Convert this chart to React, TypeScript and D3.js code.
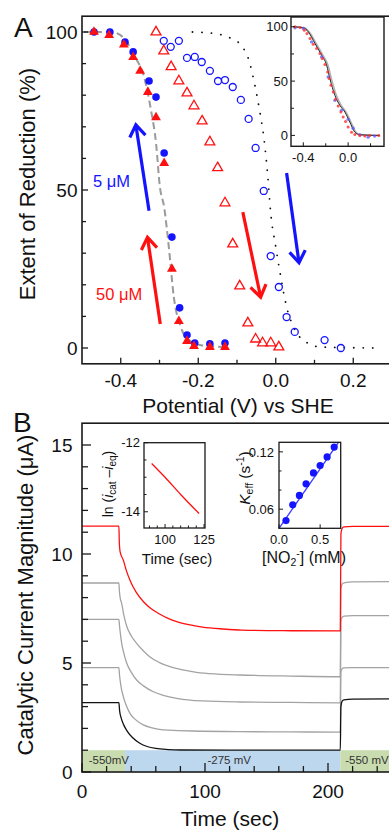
import React from "react";
import * as d3 from "d3";

const W = 389;
const H = 831;
const FONT = "Arial, 'Liberation Sans', Helvetica, sans-serif";

// ---- Panel A: extent of reduction (%) vs potential (V vs SHE) ----
const blueFilled: [number, number][] = [
  [-0.469, 100], [-0.428, 100], [-0.389, 96.8], [-0.368, 93.7], [-0.327, 84.5],
  [-0.309, 79.4], [-0.288, 61.7], [-0.268, 35.1], [-0.248, 12.7], [-0.229, 4.1],
  [-0.209, 1.6], [-0.17, 1.3], [-0.131, 1.6],
];
const redFilled: [number, number][] = [
  [-0.469, 100], [-0.43, 99], [-0.392, 96], [-0.368, 92], [-0.35, 87.7],
  [-0.33, 81], [-0.309, 73], [-0.288, 58.5], [-0.268, 25], [-0.25, 8.5],
  [-0.229, 2.2], [-0.211, 0.6], [-0.17, 0.3], [-0.131, 0.3],
];
const redOpen: [number, number][] = [
  [-0.309, 100], [-0.289, 94], [-0.27, 89], [-0.25, 84.5], [-0.229, 80.7],
  [-0.211, 76.6], [-0.19, 71.8], [-0.17, 65.2], [-0.15, 57], [-0.131, 45.9],
  [-0.111, 32.9], [-0.093, 19.6], [-0.072, 7.9], [-0.052, 2.8], [-0.034, 1.6],
  [-0.013, 1.6], [0.008, 0.3],
];
const blueOpen: [number, number][] = [
  [-0.289, 97.2], [-0.271, 95.3], [-0.25, 97.2], [-0.229, 91.8], [-0.209, 92.1],
  [-0.191, 90.5], [-0.17, 87.7], [-0.149, 84.5], [-0.131, 84.8], [-0.111, 82.6],
  [-0.09, 78.5], [-0.07, 72.5], [-0.052, 63.3], [-0.031, 49.7], [-0.013, 29.1],
  [0.008, 19.3], [0.028, 9.8], [0.049, 5.1], [0.126, 2.5], [0.168, 0],
];
const fitReductive: [number, number][] = [
  [-0.495, 100], [-0.425, 100], [-0.391, 98], [-0.366, 92.7], [-0.34, 85.8],
  [-0.322, 75.3], [-0.309, 64.9], [-0.299, 51], [-0.288, 44.6], [-0.276, 32],
  [-0.263, 16.1], [-0.245, 6.6], [-0.224, 2.5], [-0.193, 0.9], [-0.134, 0.3],
];
const fitOxidative: [number, number][] = [
  [-0.215, 100], [-0.163, 99.6], [-0.116, 98], [-0.09, 95.9], [-0.067, 90.2],
  [-0.054, 83.2], [-0.041, 74.7], [-0.031, 66.8], [-0.021, 55], [-0.013, 42.7],
  [0.0, 32], [0.013, 22.5], [0.028, 13], [0.046, 6.6], [0.082, 1.6],
  [0.116, 0.3], [0.27, 0],
];
// sweep-direction arrows: [tail, tip] in data coordinates
const arrowsBlue: [[number, number], [number, number]][] = [
  [[-0.327, 43.4], [-0.361, 70.6]],
  [[0.028, 55.4], [0.06, 27.0]],
];
const arrowsRed: [[number, number], [number, number]][] = [
  [[-0.298, 7.6], [-0.331, 35.0]],
  [[-0.085, 43.0], [-0.039, 16.1]],
];
const xTicksA = [-0.4, -0.2, 0.0, 0.2];
const xMinorA = [-0.3, -0.1, 0.1];
const yTicksA = [0, 50, 100];
const yMinorA = [10, 20, 30, 40, 60, 70, 80, 90];

// inset of panel A
const insetBlack: [number, number][] = [
  [-0.489, 100], [-0.4, 99.1], [-0.356, 95.4], [-0.296, 84.6], [-0.237, 73.9],
  [-0.192, 64.6], [-0.163, 52.3], [-0.118, 36.9], [-0.074, 27.7], [-0.029, 21.5],
  [0.015, 12.3], [0.06, 3.0], [0.104, 0.6], [0.282, 0],
];
const insetGray: [number, number][] = [
  [-0.489, 100], [-0.39, 99], [-0.345, 95], [-0.285, 84.6], [-0.226, 73.9],
  [-0.18, 64.6], [-0.15, 52.3], [-0.105, 36.9], [-0.062, 27.7], [-0.018, 21.5],
  [0.025, 12.3], [0.07, 3.0], [0.112, 0.6], [0.282, 0],
];
const insetRed: [number, number][] = [
  [-0.474, 100], [-0.429, 99.4], [-0.391, 96.9], [-0.367, 93.8], [-0.34, 89.2],
  [-0.311, 84], [-0.281, 80], [-0.252, 75.4], [-0.231, 70.7], [-0.207, 65.2],
  [-0.183, 58.4], [-0.169, 52.3], [-0.154, 46.1], [-0.133, 40], [-0.112, 33.2],
  [-0.089, 27.1], [-0.065, 21.5], [-0.044, 16.9], [-0.023, 12.9], [0.0, 7.7],
  [0.03, 3.0], [0.06, 0.9], [0.104, 0], [0.148, -0.6], [0.193, 0], [0.273, 0],
];
const insetBlue: [number, number][] = [
  [-0.474, 99.1], [-0.4, 98.4], [-0.326, 86.1], [-0.237, 72.3], [-0.178, 53.8],
  [-0.118, 32.3], [-0.059, 23.1], [0.0, 14.8], [0.044, 6.7], [0.104, 0.6],
  [0.178, -1.6], [0.237, -0.6],
];
const xTicksIA = [-0.4, 0.0];
const xMinorIA = [-0.2, 0.2];
const yTicksIA = [0, 50, 100];
const yMinorIA = [25, 75];

// ---- Panel B: catalytic current (µA) vs time (s) ----
const currentRed: [number, number][] = [
  [0, 11.28], [30, 11.28], [30.3, 10.6], [31, 10.1], [33.6, 9.72], [36, 9.25],
  [39, 8.8], [44, 8.25], [50, 7.81], [56, 7.5], [63, 7.25], [70, 7.05],
  [77, 6.9], [88, 6.75], [98, 6.65], [115, 6.56], [130, 6.51], [170, 6.48],
  [210, 6.47], [210.5, 10.9], [211.5, 11.18], [213, 11.24], [220, 11.27], [250, 11.27],
];
const currentGray1: [number, number][] = [
  [0, 8.67], [30, 8.67], [30.4, 8.3], [31, 8.0], [32.2, 7.75], [34, 7.2],
  [36.3, 6.7], [40, 6.25], [44.4, 5.9], [50, 5.55], [55, 5.29], [63, 5.02],
  [71.5, 4.83], [82, 4.68], [93, 4.57], [110, 4.49], [128, 4.45], [170, 4.4],
  [210, 4.37], [210.5, 8.4], [211.5, 8.62], [213, 8.68], [220, 8.72], [250, 8.73],
];
const currentGray2: [number, number][] = [
  [0, 7.0], [30, 7.0], [30.5, 6.7], [31.3, 6.3], [32.2, 5.92], [34, 5.45],
  [36.3, 5.0], [40, 4.58], [44.4, 4.22], [50, 3.95], [58, 3.68], [66, 3.52],
  [77, 3.38], [88, 3.3], [98, 3.26], [128, 3.21], [170, 3.19], [210, 3.17],
  [210.5, 6.9], [211.5, 7.1], [213, 7.15], [220, 7.17], [250, 7.17],
];
const currentGray3: [number, number][] = [
  [0, 4.79], [30, 4.79], [30.5, 4.45], [31.5, 4.0], [33.6, 3.46], [36, 3.05],
  [39, 2.69], [44, 2.38], [49.8, 2.16], [57, 2.02], [66, 1.93], [78, 1.9],
  [90, 1.88], [128, 1.85], [170, 1.84], [210, 1.83], [210.5, 4.6], [211.5, 4.74],
  [213, 4.78], [220, 4.79], [250, 4.79],
];
const currentBlack: [number, number][] = [
  [0, 3.18], [30, 3.18], [30.6, 2.8], [32, 2.45], [34, 2.15], [37, 1.85],
  [41, 1.58], [47, 1.32], [53, 1.17], [60, 1.08], [70, 1.03], [80, 1.01],
  [120, 1.0], [210, 1.0], [210.5, 3.0], [211.5, 3.25], [213, 3.31], [220, 3.34],
  [250, 3.35],
];
// potential steps shown as bands along the time axis
const steps = [
  { t0: 0, t1: 35, label: "-550mV", kind: "ox" },
  { t0: 35, t1: 210, label: "-275 mV", kind: "red" },
  { t0: 210, t1: 250, label: "-550 mV", kind: "ox" },
];
const stepLabelAt = [5.5, 102, 214];
const xTicksB = [0, 100, 200];
const xMinorB = [20, 40, 60, 80, 120, 140, 160, 180, 220, 240];
const yTicksB = [0, 5, 10, 15];
const yMinorB = [1, 2, 3, 4, 6, 7, 8, 9, 11, 12, 13, 14];

// inset 1: ln(icat - ieq) vs time
const lnDecay: [number, number][] = [[91.4, -12.6], [100, -13.0], [110, -13.5], [121.8, -14.05]];
const xTicksI1 = [100, 125];
const xMinorI1 = [90, 95, 105, 110, 115, 120];
const yTicksI1 = [-14, -12];
const yMinorI1 = [-13.5, -13, -12.5];

// inset 2: Keff vs [NO2-]
const keffPts: [number, number][] = [
  [0.085, 0.0481], [0.167, 0.0646], [0.248, 0.0744], [0.329, 0.0865],
  [0.419, 0.098], [0.5, 0.1057], [0.585, 0.1147], [0.671, 0.125],
];
const keffFit: [number, number][] = [[0, 0.04], [0.723, 0.13]];
const xTicksI2 = [0.0, 0.5];
const yTicksI2 = [0.06, 0.12];
const yMinorI2 = [0.08, 0.1];

type Sc = d3.ScaleLinear<number, number>;

const AXIS = "#1a1a1a";

function Ticks(props: {
  x: Sc; y: Sc; xMajor: number[]; xMinor: number[]; yMajor: number[]; yMinor: number[];
  xFmt: (v: number) => string; yFmt: (v: number) => string;
  fs: number; len: number; mlen: number; xLabY: number; yLabX: number; sw: number;
}) {
  const { x, y, xMajor, xMinor, yMajor, yMinor, xFmt, yFmt, fs, len, mlen, xLabY, yLabX, sw } = props;
  const x0 = x.range()[0];
  const y0 = y.range()[0];
  return (
    <g stroke={AXIS} strokeWidth={sw}>
      {xMinor.map((v) => (
        <line key={"xm" + v} x1={x(v)} x2={x(v)} y1={y0} y2={y0 - mlen} />
      ))}
      {yMinor.map((v) => (
        <line key={"ym" + v} x1={x0} x2={x0 + mlen} y1={y(v)} y2={y(v)} />
      ))}
      {xMajor.map((v) => (
        <g key={"x" + v}>
          <line x1={x(v)} x2={x(v)} y1={y0} y2={y0 - len} />
          <text x={x(v)} y={xLabY} textAnchor="middle" fontSize={fs} stroke="none" fill="#111">
            {xFmt(v)}
          </text>
        </g>
      ))}
      {yMajor.map((v) => (
        <g key={"y" + v}>
          <line x1={x0} x2={x0 + len} y1={y(v)} y2={y(v)} />
          <text x={yLabX} y={y(v)} dy="0.36em" textAnchor="end" fontSize={fs} stroke="none" fill="#111">
            {yFmt(v)}
          </text>
        </g>
      ))}
    </g>
  );
}

function Arrow({ a, b, color }: { a: [number, number]; b: [number, number]; color: string }) {
  const ang = Math.atan2(b[1] - a[1], b[0] - a[0]);
  const L = 14;
  const s = 0.6;
  const p1 = [b[0] - L * Math.cos(ang - s), b[1] - L * Math.sin(ang - s)];
  const p2 = [b[0] - L * Math.cos(ang + s), b[1] - L * Math.sin(ang + s)];
  return (
    <g stroke={color} strokeWidth={3.2} fill="none">
      <line x1={a[0]} y1={a[1]} x2={b[0]} y2={b[1]} />
      <polyline points={`${p1[0]},${p1[1]} ${b[0]},${b[1]} ${p2[0]},${p2[1]}`} strokeLinejoin="miter" />
    </g>
  );
}

export default function App() {
  // Panel A scales
  const xA = d3.scaleLinear().domain([-0.5, 0.3]).range([82, 392]);
  const yA = d3.scaleLinear().domain([-5, 105]).range([363.8, 16.2]);
  const lineA = d3.line<[number, number]>().x((d) => xA(d[0])).y((d) => yA(d[1])).curve(d3.curveMonotoneX);
  const tri = d3.symbol().type(d3.symbolTriangle).size(42)() as string;

  // Inset A
  const xIA = d3.scaleLinear().domain([-0.51, 0.32]).range([291, 384]);
  const yIA = d3.scaleLinear().domain([-10, 109]).range([146.3, 17]);
  const lineIA = d3.line<[number, number]>().x((d) => xIA(d[0])).y((d) => yIA(d[1])).curve(d3.curveMonotoneX);

  // Panel B
  const xB = d3.scaleLinear().domain([0, 250]).range([82, 389.5]);
  const yB = d3.scaleLinear().domain([0, 16]).range([772, 423.2]);
  const lineB = d3.line<[number, number]>().x((d) => xB(d[0])).y((d) => yB(d[1])).curve(d3.curveMonotoneX);

  // Inset B1
  const xI1 = d3.scaleLinear().domain([86.5, 125.6]).range([144, 205]);
  const yI1 = d3.scaleLinear().domain([-14.47, -12]).range([528, 442.7]);
  const lineI1 = d3.line<[number, number]>().x((d) => xI1(d[0])).y((d) => yI1(d[1])).curve(d3.curveMonotoneX);

  // Inset B2
  const xI2 = d3.scaleLinear().domain([0, 0.75]).range([279, 340.7]);
  const yI2 = d3.scaleLinear().domain([0.04, 0.13]).range([528.3, 442.3]);
  const lineI2 = d3.line<[number, number]>().x((d) => xI2(d[0])).y((d) => yI2(d[1]));

  const BLUE = "#1414ff";
  const RED = "#ff1010";
  const GRAY = "#a3a3a3";

  const f1 = (v: number) => v.toFixed(1);
  const f0 = (v: number) => String(v);
  const f2 = (v: number) => v.toFixed(2);

  return (
    <svg
      width={W}
      height={H}
      viewBox={`0 0 ${W} ${H}`}
      style={{ position: "absolute", left: 0, top: 0, background: "#fff" }}
      fontFamily={FONT}
    >
      <rect width={W} height={H} fill="#fff" />

      {/* ================= Panel A ================= */}
      <text x={14} y={37} fontSize={28} fill="#111">A</text>

      <path d={lineA(fitOxidative) as string} fill="none" stroke="#111" strokeWidth={1.8}
        strokeDasharray="0.1 9.4" strokeLinecap="round" />
      <path d={lineA(fitReductive) as string} fill="none" stroke="#9a9a9a" strokeWidth={2}
        strokeDasharray="7 4" />

      {blueOpen.map((d, i) => (
        <circle key={"bo" + i} cx={xA(d[0])} cy={yA(d[1])} r={3.5} fill="none" stroke={BLUE} strokeWidth={1.3} />
      ))}
      {redOpen.map((d, i) => (
        <path key={"ro" + i} d={tri} transform={`translate(${xA(d[0])},${yA(d[1])})`} fill="none" stroke={RED} strokeWidth={1.3} />
      ))}
      {blueFilled.map((d, i) => (
        <circle key={"bf" + i} cx={xA(d[0])} cy={yA(d[1])} r={3.8} fill={BLUE} />
      ))}
      {redFilled.map((d, i) => (
        <path key={"rf" + i} d={tri} transform={`translate(${xA(d[0])},${yA(d[1])})`} fill={RED} />
      ))}

      {arrowsBlue.map((ar, i) => (
        <Arrow key={"ab" + i} a={[xA(ar[0][0]), yA(ar[0][1])]} b={[xA(ar[1][0]), yA(ar[1][1])]} color={BLUE} />
      ))}
      {arrowsRed.map((ar, i) => (
        <Arrow key={"ar" + i} a={[xA(ar[0][0]), yA(ar[0][1])]} b={[xA(ar[1][0]), yA(ar[1][1])]} color={RED} />
      ))}

      <text x={93} y={187} fontSize={16.5} fill={BLUE}>5 μM</text>
      <text x={96} y={300} fontSize={16.5} fill={RED}>50 μM</text>

      <rect x={82} y={16.2} width={330} height={363.8 - 16.2} fill="none" stroke={AXIS} strokeWidth={1.6} />
      <Ticks x={xA} y={yA} xMajor={xTicksA} xMinor={xMinorA} yMajor={yTicksA} yMinor={yMinorA}
        xFmt={f1} yFmt={f0} fs={19} len={6} mlen={4} xLabY={387} yLabX={77.5} sw={1.3} />

      <text transform="translate(35,184) rotate(-90)" textAnchor="middle" fontSize={22} fill="#111">
        Extent of Reduction (%)
      </text>
      <text x={238} y={413} textAnchor="middle" fontSize={21} fill="#111">Potential (V) vs SHE</text>

      {/* inset A */}
      <rect x={291} y={17} width={93} height={129.3} fill="#fff" />
      <path d={lineIA(insetGray) as string} fill="none" stroke="#b0b0b0" strokeWidth={1.6} />
      <path d={lineIA(insetBlack) as string} fill="none" stroke="#222" strokeWidth={1} />
      {insetBlue.map((d, i) => (
        <circle key={"ib" + i} cx={xIA(d[0])} cy={yIA(d[1])} r={1.7} fill="#5a5aff" fillOpacity={0.75} />
      ))}
      {insetRed.map((d, i) => (
        <circle key={"ir" + i} cx={xIA(d[0])} cy={yIA(d[1])} r={1.5} fill="#ff2a2a" fillOpacity={0.8} />
      ))}
      <rect x={291} y={17} width={93} height={129.3} fill="none" stroke={AXIS} strokeWidth={1.4} />
      <Ticks x={xIA} y={yIA} xMajor={xTicksIA} xMinor={xMinorIA} yMajor={yTicksIA} yMinor={yMinorIA}
        xFmt={f1} yFmt={f0} fs={13} len={4} mlen={3} xLabY={162} yLabX={288} sw={1} />

      {/* ================= Panel B ================= */}
      <text x={13} y={432} fontSize={28} fill="#111">B</text>

      {steps.map((s, i) => (
        <rect key={"st" + i} x={xB(s.t0)} y={yB(1.0)} width={xB(s.t1) - xB(s.t0)} height={yB(0) - yB(1.0)}
          fill={s.kind === "ox" ? "#c9dcaf" : "#bdd7ef"} />
      ))}
      {steps.map((s, i) => (
        <text key={"sl" + i} x={xB(stepLabelAt[i])} y={764} fontSize={11.5} fill="#333">{s.label}</text>
      ))}

      <path d={lineB(currentGray1) as string} fill="none" stroke={GRAY} strokeWidth={1.3} />
      <path d={lineB(currentGray2) as string} fill="none" stroke={GRAY} strokeWidth={1.3} />
      <path d={lineB(currentGray3) as string} fill="none" stroke={GRAY} strokeWidth={1.3} />
      <path d={lineB(currentBlack) as string} fill="none" stroke="#111" strokeWidth={1.3} />
      <path d={lineB(currentRed) as string} fill="none" stroke={RED} strokeWidth={1.3} />

      <rect x={82} y={423.2} width={330} height={772 - 423.2} fill="none" stroke={AXIS} strokeWidth={1.6} />
      <Ticks x={xB} y={yB} xMajor={xTicksB} xMinor={xMinorB} yMajor={yTicksB} yMinor={yMinorB}
        xFmt={f0} yFmt={f0} fs={19} len={9} mlen={6} xLabY={798} yLabX={72.5} sw={1.3} />

      <text transform="translate(33,595) rotate(-90)" textAnchor="middle" fontSize={22} fill="#111">
        Catalytic Current Magnitude (μA)
      </text>
      <text x={230} y={826} textAnchor="middle" fontSize={21} fill="#111">Time (sec)</text>

      {/* inset B1 */}
      <rect x={144} y={442.7} width={61} height={85.3} fill="#fff" />
      <path d={lineI1(lnDecay) as string} fill="none" stroke={RED} strokeWidth={1.3} />
      <rect x={144} y={442.7} width={61} height={85.3} fill="none" stroke={AXIS} strokeWidth={1.3} />
      <Ticks x={xI1} y={yI1} xMajor={xTicksI1} xMinor={xMinorI1} yMajor={yTicksI1} yMinor={yMinorI1}
        xFmt={f0} yFmt={f0} fs={13} len={4} mlen={2.5} xLabY={544} yLabX={140} sw={1} />
      <text x={177} y={564} textAnchor="middle" fontSize={15} fill="#111">Time (sec)</text>
      <text transform="translate(113,484) rotate(-90)" textAnchor="middle" fontSize={14} fill="#111">
        <tspan>ln (</tspan>
        <tspan fontStyle="italic">i</tspan>
        <tspan fontSize={10} dy={3}>cat</tspan>
        <tspan dy={-3}> –</tspan>
        <tspan fontStyle="italic">i</tspan>
        <tspan fontSize={10} dy={3}>eq</tspan>
        <tspan dy={-3}>)</tspan>
      </text>

      {/* inset B2 */}
      <rect x={279} y={442.3} width={61.7} height={86} fill="#fff" />
      <path d={lineI2(keffFit) as string} fill="none" stroke="#3a3aff" strokeWidth={1.3} />
      {keffPts.map((d, i) => (
        <circle key={"k" + i} cx={xI2(d[0])} cy={yI2(d[1])} r={3.6} fill={BLUE} />
      ))}
      <rect x={279} y={442.3} width={61.7} height={86} fill="none" stroke={AXIS} strokeWidth={1.3} />
      <Ticks x={xI2} y={yI2} xMajor={xTicksI2} xMinor={[]} yMajor={yTicksI2} yMinor={yMinorI2}
        xFmt={f1} yFmt={f2} fs={13} len={4} mlen={2.5} xLabY={544} yLabX={274} sw={1} />
      <text x={304} y={563} textAnchor="middle" fontSize={16} fill="#111">
        <tspan>[NO</tspan>
        <tspan fontSize={10.5} dy={3}>2</tspan>
        <tspan fontSize={10.5} dy={-9}>-</tspan>
        <tspan dy={6}>] (mM)</tspan>
      </text>
      <text transform="translate(250,478) rotate(-90)" textAnchor="middle" fontSize={15.5} fill="#111">
        <tspan fontStyle="italic">K</tspan>
        <tspan fontSize={10.5} dy={3}>eff</tspan>
        <tspan dy={-3}> (s</tspan>
        <tspan fontSize={10.5} dy={-6}>-1</tspan>
        <tspan dy={6}>)</tspan>
      </text>
    </svg>
  );
}
